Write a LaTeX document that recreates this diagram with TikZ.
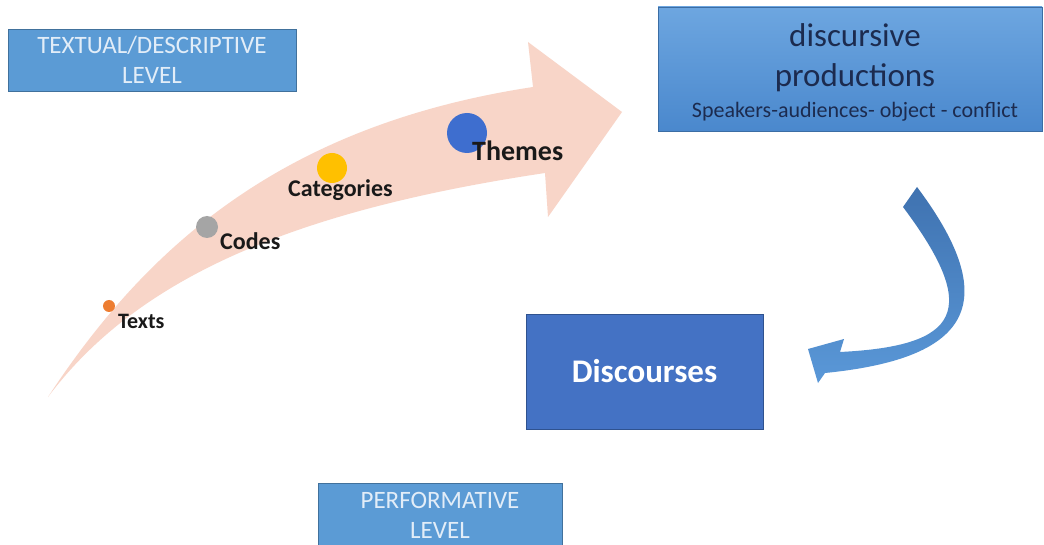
\documentclass[tikz,border=0pt]{standalone}
\usepackage{fontspec}
\setmainfont{Carlito}
\definecolor{peach}{HTML}{F8D5C8}
\definecolor{lvlfill}{HTML}{5B9BD5}
\definecolor{lvlline}{HTML}{41719C}
\definecolor{lvltext}{HTML}{E2EDF8}
\definecolor{discfill}{HTML}{4472C4}
\definecolor{discline}{HTML}{2F528F}
\definecolor{prodtop}{HTML}{6DA6E0}
\definecolor{prodbot}{HTML}{4A88CD}
\definecolor{navy}{HTML}{1C2B4F}
\definecolor{arrtop}{HTML}{3F72B0}
\definecolor{arrbot}{HTML}{5A98D8}
\definecolor{dotorange}{HTML}{ED7D31}
\definecolor{dotgray}{HTML}{A5A5A5}
\definecolor{dotyellow}{HTML}{FFC000}
\definecolor{dotblue}{HTML}{3E6ECF}
\tikzset{
  levelbox/.style={draw=lvlline, line width=0.8pt, fill=lvlfill, text=lvltext,
    align=center, inner sep=0pt, font=\fontsize{25}{30}\selectfont},
  dotstyle/.style={circle, inner sep=0pt},
  steplabel/.style={anchor=base west, inner sep=0pt, text=black!90, font=\bfseries},
}
\begin{document}
\begin{tikzpicture}[x=1pt,y=-1pt]
\useasboundingbox (0,0) rectangle (1044,545);
\fill[white] (0,0) rectangle (1044,545);

% big peach arrow
\fill[peach] (48,397) .. controls (147,246) and (283,125) .. (533,87)
  -- (528,42) -- (622,112) -- (548,217) -- (545,173)
  .. controls (295,210.5) and (138,277) .. (48,397) -- cycle;

% dots
\node[dotstyle, fill=dotorange, minimum size=12pt] (dtexts) at (109,306) {};
\node[dotstyle, fill=dotgray, minimum size=22pt] (dcodes) at (207,227) {};
\node[dotstyle, fill=dotyellow, minimum size=30pt] (dcat) at (332,168) {};
\node[dotstyle, fill=dotblue, minimum size=40pt] (dthemes) at (467,133) {};

% labels
\node[steplabel, font=\bfseries\fontsize{22}{26}\selectfont] (ltexts) at (118,328) {Texts};
\node[steplabel, font=\bfseries\fontsize{24}{28}\selectfont] (lcodes) at (220,250) {Codes};
\node[steplabel, font=\bfseries\fontsize{24}{28}\selectfont] (lcat) at (288,197) {Categories};
\node[steplabel, font=\bfseries\fontsize{28}{32}\selectfont] (lthemes) at (472,161) {Themes};

% level boxes
\node[levelbox, minimum width=288pt, minimum height=62pt] (textual) at (152,60)
  {TEXTUAL/DESCRIPTIVE\\LEVEL};
\node[levelbox, minimum width=244pt, minimum height=64pt] (perf) at (440,515)
  {PERFORMATIVE\\LEVEL};

% discursive productions box
\node[draw=prodbot!80!black, line width=0.5pt, top color=prodtop, bottom color=prodbot,
  minimum width=384pt, minimum height=124pt, inner sep=0pt] (prod) at (850,69) {};
\node[anchor=base, inner sep=0pt, text=navy, font=\fontsize{33}{38}\selectfont] (prod1) at (855,47) {discursive};
\node[anchor=base, inner sep=0pt, text=navy, font=\fontsize{33}{38}\selectfont] (prod2) at (855,87) {productions};
\node[anchor=base, inner sep=0pt, text=navy, font=\fontsize{22}{26}\selectfont] (prod3) at (855,118) {Speakers-audiences- object - conflict};

% discourses box
\node[draw=discline, line width=0.8pt, fill=discfill, text=white,
  minimum width=237pt, minimum height=115pt, inner sep=0pt,
  font=\bfseries\fontsize{33}{38}\selectfont] (disc) at (644.5,371.5) {Discourses};

% curved blue arrow
\shade[top color=arrtop, bottom color=arrbot]
  (917,187) .. controls (1007,307) and (965,359) .. (825,373)
  -- (818,383) -- (808,349) -- (844,339) -- (840,352)
  .. controls (960,346) and (981,311) .. (903,207) -- cycle;
\end{tikzpicture}
\end{document}
